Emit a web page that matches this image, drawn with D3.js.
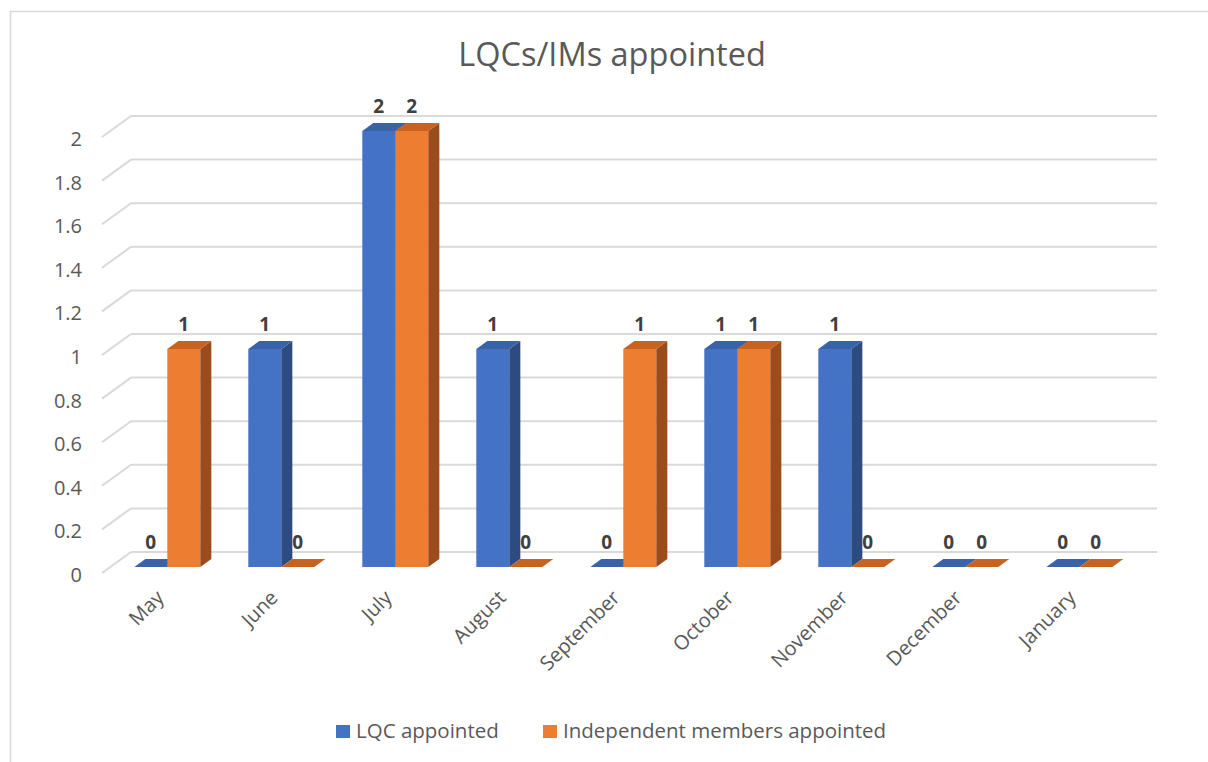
<!DOCTYPE html>
<html>
<head>
  <meta charset="utf-8">
  <title>LQCs/IMs appointed</title>
  <script src="https://d3js.org/d3.v7.min.js"></script>
  <style>
    body { margin: 0; background: #ffffff; font-family: 'Open Sans', 'Noto Sans', sans-serif; }
    .grid line { stroke: #d9d9d9; stroke-width: 2px; }
    .tick-label { fill: #595959; font-size: 20px; }
    .value-label { fill: #404040; font-size: 19px; font-weight: bold; text-anchor: middle; }
  </style>
</head>
<body>
  <div id="chart"></div>
  <script>
    // chart data
    const months = ["May", "June", "July", "August", "September", "October", "November", "December", "January"];
    const lqcAppointed = [0, 1, 2, 1, 0, 1, 1, 0, 0];
    const imsAppointed = [1, 0, 2, 0, 1, 1, 0, 0, 0];
    const seriesNames = ["LQC appointed", "Independent members appointed"];
    const yTicks = [0, 0.2, 0.4, 0.6, 0.8, 1, 1.2, 1.4, 1.6, 1.8, 2];

    const width = 1208, height = 762;
    const colors = {
      "LQC appointed": { front: "#4472c4", top: "#3a62a9", side: "#2d4b80" },
      "Independent members appointed": { front: "#ed7d31", top: "#c9621f", side: "#9b4c1c" }
    };

    const svg = d3.select("#chart").append("svg")
      .attr("width", width)
      .attr("height", height);

    // outer frame
    svg.append("rect")
      .attr("x", 10.5).attr("y", 11.5)
      .attr("width", width + 20).attr("height", height + 20)
      .attr("fill", "none")
      .attr("stroke", "#d9d9d9")
      .attr("stroke-width", 1.5);

    // title
    svg.append("text")
      .attr("x", 612).attr("y", 66)
      .attr("text-anchor", "middle")
      .attr("fill", "#595959")
      .style("font-size", "32.5px")
      .text("LQCs/IMs appointed");

    // back wall scales
    const x = d3.scaleBand().domain(months).range([131, 1157]);
    const y = d3.scaleLinear().domain([0, 2]).range([552, 116]);
    const slant = 1.38;               // dx per unit of depth (dy)
    const floorDepth = 21, barFront = 15, barBack = 7;
    const barW = 33;
    const sub = d3.scaleBand().domain(seriesNames).range([-barW, barW]);

    const proj = (px, v, d) => [px - slant * d, y(v) + d];
    const poly = pts => pts.map(p => p.join(",")).join(" ");

    // gridlines: back wall and left-side floor edges
    const grid = svg.append("g").attr("class", "grid");
    yTicks.forEach(t => {
      grid.append("line")
        .attr("x1", x.range()[0]).attr("x2", x.range()[1])
        .attr("y1", y(t)).attr("y2", y(t));
      const [fx, fy] = proj(x.range()[0], t, floorDepth);
      grid.append("line")
        .attr("x1", x.range()[0]).attr("y1", y(t))
        .attr("x2", fx).attr("y2", fy);
    });

    // y tick labels
    svg.append("g").selectAll("text")
      .data(yTicks)
      .join("text")
      .attr("class", "tick-label")
      .attr("x", d => proj(x.range()[0], d, floorDepth)[0] - 20)
      .attr("y", d => proj(x.range()[0], d, floorDepth)[1] + 2)
      .attr("dy", "0.35em")
      .attr("text-anchor", "end")
      .text(d => d);

    // bars
    const bars = [];
    months.forEach((m, i) => {
      bars.push({ month: m, series: seriesNames[0], value: lqcAppointed[i] });
      bars.push({ month: m, series: seriesNames[1], value: imsAppointed[i] });
    });

    const barG = svg.append("g");
    bars.forEach(b => {
      const cx = x(b.month) + x.bandwidth() / 2;
      const x0 = cx + sub(b.series), x1 = x0 + sub.bandwidth();
      const c = colors[b.series];
      const g = barG.append("g");
      if (b.value > 0) {
        g.append("polygon")
          .attr("points", poly([proj(x0, b.value, barFront), proj(x1, b.value, barFront), proj(x1, 0, barFront), proj(x0, 0, barFront)]))
          .attr("fill", c.front);
        g.append("polygon")
          .attr("points", poly([proj(x1, b.value, barFront), proj(x1, 0, barFront), proj(x1, 0, barBack), proj(x1, b.value, barBack)]))
          .attr("fill", c.side);
      }
      g.append("polygon")
        .attr("points", poly([proj(x0, b.value, barFront), proj(x1, b.value, barFront), proj(x1, b.value, barBack), proj(x0, b.value, barBack)]))
        .attr("fill", c.top);
      const top = proj((x0 + x1) / 2, b.value, barFront);
      g.append("text")
        .attr("class", "value-label")
        .attr("x", top[0])
        .attr("y", top[1] - 18)
        .text(b.value);
    });

    // category labels
    svg.append("g").selectAll("text")
      .data(months)
      .join("text")
      .attr("class", "tick-label")
      .attr("text-anchor", "end")
      .attr("transform", d => {
        const p = proj(x(d) + x.bandwidth() / 2, 0, floorDepth);
        return `translate(${p[0] + 6}, ${p[1] + 26}) rotate(-45)`;
      })
      .text(d => d);

    // legend
    const legend = svg.append("g");
    const legendX = [336, 543];
    seriesNames.forEach((s, i) => {
      legend.append("rect")
        .attr("x", legendX[i]).attr("y", 725)
        .attr("width", 14).attr("height", 13)
        .attr("fill", colors[s].front);
      legend.append("text")
        .attr("x", legendX[i] + 20).attr("y", 738)
        .attr("fill", "#595959")
        .style("font-size", "20.5px")
        .text(s);
    });
  </script>
</body>
</html>
